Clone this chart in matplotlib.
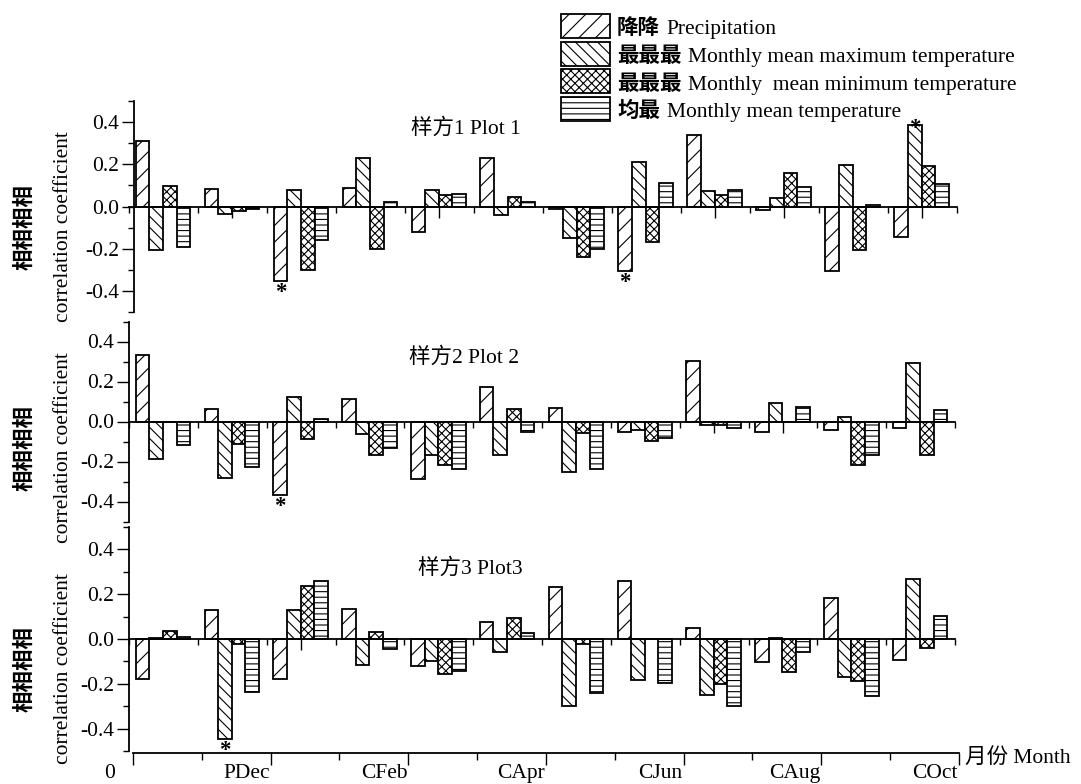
import matplotlib
matplotlib.use("Agg")
import matplotlib.pyplot as plt
import numpy as np
from matplotlib.patches import Rectangle
from matplotlib.ticker import FixedLocator, MultipleLocator, FormatStrFormatter
from matplotlib.transforms import blended_transform_factory, ScaledTranslation

# ---------------- data ----------------
months = ["PNov", "PDec", "CJan", "CFeb", "CMar", "CApr",
          "CMay", "CJun", "CJul", "CAug", "CSep", "COct"]
month_tick_labels = ["0", "PDec", "CFeb", "CApr", "CJun", "CAug", "COct"]

series_cn = ["降降", "最最最", "最最最", "均最"]
series_en = ["Precipitation", "Monthly mean maximum temperature",
             "Monthly  mean minimum temperature", "Monthly mean temperature"]

# plot 1
precip_1 = [0.31, 0.084, -0.353, 0.09, -0.123, 0.23, -0.01, -0.305, 0.34, -0.016, -0.305, -0.144]
tmax_1 = [-0.207, -0.035, 0.078, 0.23, 0.078, -0.04, -0.149, 0.21, 0.073, 0.04, 0.196, 0.384]
tmin_1 = [0.097, -0.02, -0.30, -0.20, 0.055, 0.046, -0.237, -0.169, 0.055, 0.158, -0.207, 0.19]
tmean_1 = [-0.19, -0.01, -0.16, 0.02, 0.06, 0.022, -0.203, 0.111, 0.08, 0.092, 0.006, 0.108]
# plot 2
precip_2 = [0.335, 0.063, -0.368, 0.112, -0.287, 0.172, 0.068, -0.05, 0.305, -0.053, -0.043, -0.033]
tmax_2 = [-0.188, -0.28, 0.122, -0.062, -0.167, -0.168, -0.252, -0.04, -0.018, 0.093, 0.023, 0.295]
tmin_2 = [0.0, -0.11, -0.088, -0.168, -0.218, 0.065, -0.055, -0.098, -0.015, -0.004, -0.217, -0.167]
tmean_2 = [-0.115, -0.227, 0.015, -0.133, -0.235, -0.052, -0.235, -0.083, -0.033, 0.073, -0.167, 0.06]
# plot 3
precip_3 = [-0.18, 0.13, -0.18, 0.132, -0.12, 0.078, 0.23, 0.26, 0.051, -0.104, 0.183, -0.095]
tmax_3 = [0.005, -0.445, 0.13, -0.115, -0.10, -0.058, -0.30, -0.185, -0.252, 0.003, -0.168, 0.266]
tmin_3 = [0.037, -0.021, 0.238, 0.03, -0.157, 0.093, -0.024, 0.0, -0.20, -0.147, -0.188, -0.038]
tmean_3 = [0.01, -0.238, 0.26, -0.046, -0.144, 0.027, -0.24, -0.198, -0.30, -0.06, -0.254, 0.102]

# significant correlations: (series index, month index)
signif_1 = [(0, 2), (0, 7), (1, 11)]
signif_2 = [(0, 2)]
signif_3 = [(1, 1)]

# extra long ticks on the zero line
long_ticks_1 = [1.5, 4.5, 8.5, 9.5, 11.5]
long_ticks_2 = [8.5, 9.5]
long_ticks_3 = [2.5]

titles = ["样方1 Plot 1", "样方2 Plot 2", "样方3 Plot3"]

# ---------------- layout ----------------
W, H, DPI = 1081, 784, 100
SERIF = ["Liberation Serif", "Noto Sans CJK SC"]
CJK = "Noto Sans CJK SC"
FS = 15.5
HATCHES = ["//", "\\\\\\", "xxxx", "---"]
GROUP_START = 0.097
BAR_W = 0.198

plt.rcParams["font.family"] = SERIF
plt.rcParams["hatch.linewidth"] = 0.8
plt.rcParams["hatch.color"] = "black"

fig = plt.figure(figsize=(W / DPI, H / DPI), dpi=DPI)
fig.patch.set_facecolor("white")


def fx(x):
    return x / W


def fy(y):
    return 1 - y / H


def make_panel(left, right, top, bottom, spine_shift):
    ax = fig.add_axes([fx(left), fy(bottom), (right - left) / W, (bottom - top) / H])
    ax.set_xlim(0, 12)
    ax.set_ylim(-0.5, 0.5)
    ax.patch.set_alpha(0)
    for s in ("top", "right"):
        ax.spines[s].set_visible(False)
    ax.spines["bottom"].set_position(("data", 0))
    ax.spines["left"].set_position(("data", spine_shift))
    for s in ("bottom", "left"):
        ax.spines[s].set_linewidth(1.3)
    ax.yaxis.set_major_locator(FixedLocator([-0.4, -0.2, 0.0, 0.2, 0.4]))
    ax.yaxis.set_minor_locator(MultipleLocator(0.1))
    ax.yaxis.set_major_formatter(FormatStrFormatter("%.1f"))
    ax.tick_params(axis="y", which="major", direction="out", length=8.5, width=1.0,
                   labelsize=FS, pad=2)
    ax.tick_params(axis="y", which="minor", direction="out", length=4, width=1.0)
    ax.xaxis.set_major_locator(FixedLocator(np.arange(0, 13)))
    ax.tick_params(axis="x", which="major", direction="out", length=4.3, width=1.0,
                   labelbottom=False)
    ax.tick_params(axis="x", which="minor", direction="out", length=8, width=1.0,
                   labelbottom=False)
    return ax


def draw_bars(ax, values, signif, long_ticks):
    idx = np.arange(len(months))
    xs = []
    for k, (v, h) in enumerate(zip(values, HATCHES)):
        x = idx + GROUP_START + (k + 0.5) * BAR_W
        xs.append(x)
        ax.bar(x, v, width=BAR_W, color="white", edgecolor="black",
               linewidth=1.3, hatch=h, zorder=2)
    for k, m in signif:
        v = values[k][m]
        if v < 0:
            ax.annotate("*", xy=(xs[k][m], v), xytext=(0, -1), textcoords="offset points",
                        ha="center", va="top", fontsize=FS + 1, fontweight="bold", zorder=4)
        else:
            ax.annotate("*", xy=(xs[k][m], v), xytext=(0, -6), textcoords="offset points",
                        ha="center", va="baseline", fontsize=FS + 1, fontweight="bold",
                        zorder=4)
    ax.xaxis.set_minor_locator(FixedLocator(long_ticks))


panels = [
    ((129, 956.5, 101, 312, 5 / 68.9), [precip_1, tmax_1, tmin_1, tmean_1], signif_1, long_ticks_1),
    ((129, 955, 321.5, 521.5, 0.0), [precip_2, tmax_2, tmin_2, tmean_2], signif_2, long_ticks_2),
    ((129, 955, 527, 751, 0.0), [precip_3, tmax_3, tmin_3, tmean_3], signif_3, long_ticks_3),
]
for (geom, vals, sig, lt) in panels:
    ax = make_panel(*geom)
    draw_bars(ax, vals, sig, lt)

# panel titles
for title, (tx, ty) in zip(titles, [(411, 134), (409, 363), (418, 573.5)]):
    fig.text(fx(tx), fy(ty), title, fontsize=FS, ha="left", va="baseline", family=SERIF)

# y-axis labels
for yc in (227, 448, 669):
    fig.text(fx(24), fy(yc), "相相相相", rotation=90, ha="center", va="center",
             fontsize=FS, family=CJK, fontweight="bold")
    fig.text(fx(63.5), fy(yc), "correlation coefficient", rotation=90, ha="center",
             va="center", fontsize=FS, family=SERIF)

# month axis at the bottom
axm = fig.add_axes([fx(133), fy(752.7), 826 / W, 0.0001])
axm.set_xlim(0, 12)
axm.patch.set_alpha(0)
for s in ("top", "right", "left"):
    axm.spines[s].set_visible(False)
axm.spines["bottom"].set_linewidth(1.3)
axm.set_yticks([])
axm.xaxis.set_major_locator(FixedLocator(np.arange(0, 13, 2)))
axm.xaxis.set_minor_locator(FixedLocator(np.arange(1, 13, 2)))
axm.tick_params(axis="x", which="major", direction="out", length=8.6, width=1.0,
                labelbottom=False)
axm.tick_params(axis="x", which="minor", direction="out", length=5, width=1.0)
trans = blended_transform_factory(axm.transData, fig.transFigure)
for pos, lab in zip(np.arange(0, 13, 2), month_tick_labels):
    dx = -18 if lab == "0" else -1
    t = trans + ScaledTranslation(dx / DPI, 0, fig.dpi_scale_trans)
    axm.text(pos, fy(778), lab, transform=t, ha="right", va="baseline",
             fontsize=FS, clip_on=False)
fig.text(fx(965), fy(763), "月份 Month", fontsize=FS, ha="left", va="baseline", family=SERIF)

# legend
for i, (cn, en, h) in enumerate(zip(series_cn, series_en, HATCHES)):
    top = 14 + i * 27.6
    fig.add_artist(Rectangle((fx(561), fy(top + 24)), 49.4 / W, 24 / H,
                             transform=fig.transFigure, facecolor="white",
                             edgecolor="black", linewidth=1.3, hatch=h))
    base = top + 12 + 8.4
    fig.text(fx(617), fy(base), cn, fontsize=FS, family=CJK, fontweight="bold",
             ha="left", va="baseline")
    fig.text(fx(617 + len(cn) * 21.6 + 6.5), fy(base), en, fontsize=FS, family=SERIF,
             ha="left", va="baseline")

fig.savefig("out.png", dpi=DPI, facecolor="white")
